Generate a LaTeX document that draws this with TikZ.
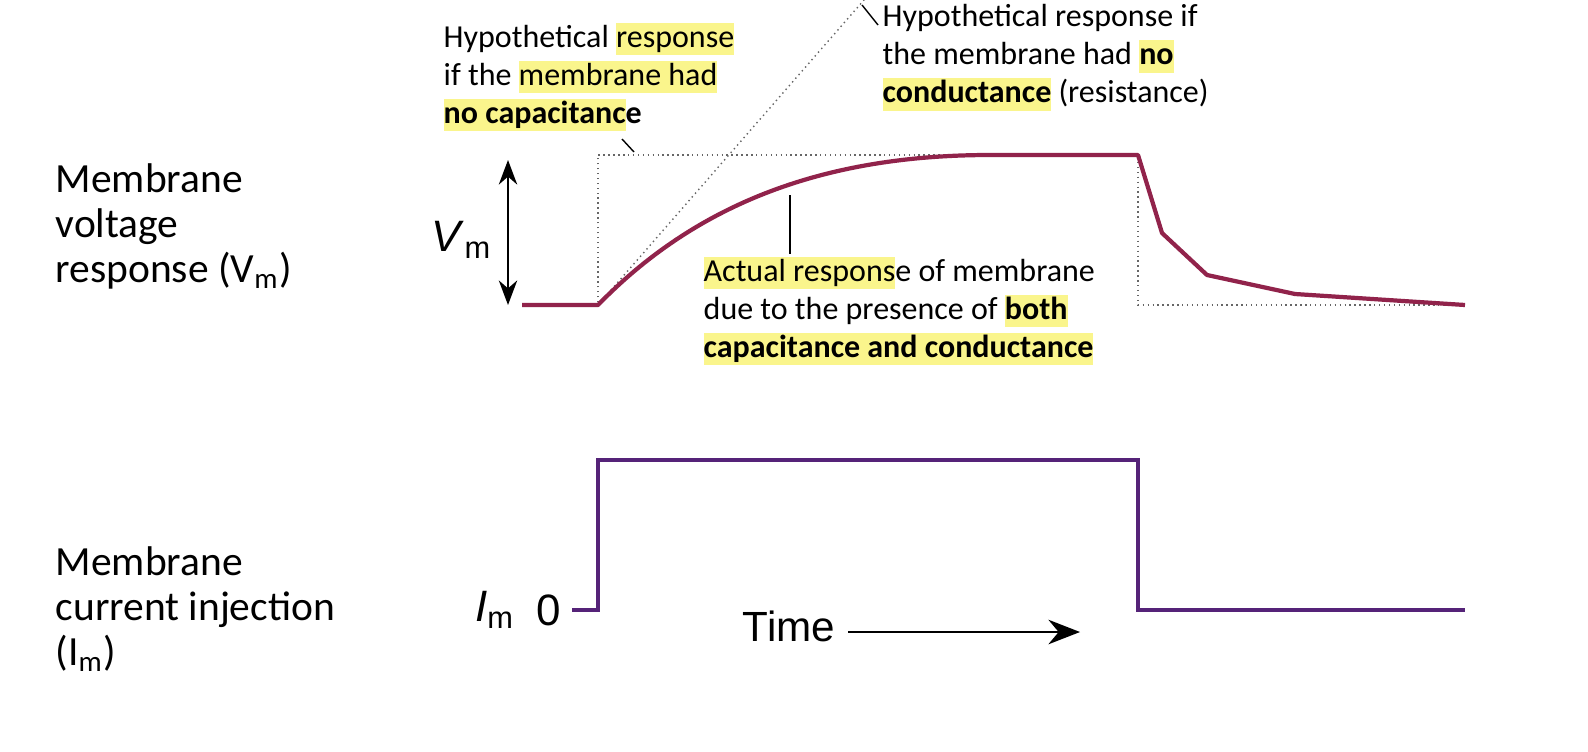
\documentclass[tikz,border=0pt]{standalone}
\usepackage{fontspec}
\setmainfont{Carlito}
\newfontfamily\arialf{Liberation Sans}
\usetikzlibrary{arrows.meta}
\definecolor{hl}{RGB}{250,245,140}
\definecolor{vtr}{RGB}{145,35,75}
\definecolor{itr}{RGB}{85,35,120}
\newcommand{\hlt}[1]{{\setlength{\fboxsep}{0pt}\colorbox{hl}{\rule[-2.2pt]{0pt}{9.2pt}#1}}}
\begin{document}
\begin{tikzpicture}[x=0.01cm,y=-0.01cm,
  lab/.style={font=\fontsize{11.8}{12.8}\selectfont,align=left,anchor=north west,inner sep=0},
  ann/.style={font=\fontsize{9.1}{10.8}\selectfont,align=left,anchor=north west,inner sep=0},
  guide/.style={densely dotted,gray!80!black,line width=0.4pt},
  lead/.style={black,line width=0.4pt}]
\useasboundingbox (0,0) rectangle (1588,751);
% left labels
\node[lab] (lv) at (55,163) {Membrane\\voltage\\response (V\textsubscript{m})};
\node[lab] (li) at (55,546) {Membrane\\current injection\\(I\textsubscript{m})};
% guides
\coordinate (v0) at (598,305);
\draw[guide] (522,305) -- (v0) -- (598,155) -- (1138,155) -- (1138,305) -- (1465,305);
\coordinate (rtop) at (864,0);
\draw[guide] (v0) -- (rtop);
% voltage trace
\draw[vtr,line width=1.2pt,line join=round] (522,305) -- (v0)
  .. controls (700,200) and (830,155) .. (990,155) -- (1138,155)
  -- (1162,233) -- (1207,275) -- (1295,294) -- (1465,305);
% Vm arrow
\coordinate (va) at (508,160); \coordinate (vb) at (508,305);
\draw[{Stealth[length=7pt]}-{Stealth[length=7pt]},line width=0.5pt] (va) -- (vb);
\node[font=\arialf\fontsize{12.5}{14}\selectfont] (vm) at (462,240) {\textit{V}\textsubscript{m}};
% annotations
\node[ann] (a1) at (443,22) {Hypothetical \hlt{response}\\if the \hlt{membrane had}\\\hlt{\textbf{no capacitanc}}\textbf{e}};
\node[ann] (a2) at (882,4) {Hypothetical response if\\the membrane had \hlt{\textbf{no}}\\\hlt{\textbf{conductance}} (resistance)};
\node[ann] (a3) at (703,256) {\hlt{Actual respons}e of membrane\\due to the presence of \hlt{\textbf{both}}\\\hlt{\textbf{capacitance and conductance}}};
\coordinate (l1a) at (622,139); \coordinate (l1b) at (634,152);
\draw[lead] (l1a) -- (l1b);
\coordinate (l2a) at (862,5); \coordinate (l2b) at (878,25);
\draw[lead] (l2a) -- (l2b);
\coordinate (l3a) at (790,195); \coordinate (l3b) at (790,254);
\draw[lead] (l3a) -- (l3b);
% current trace
\draw[itr,line width=1.3pt,line join=miter] (572,610) -- (598,610) -- (598,460) -- (1138,460) -- (1138,610) -- (1465,610);
\node[font=\arialf\fontsize{12.5}{14}\selectfont] (im) at (495,610) {\textit{I}\textsubscript{m}};
\node[font=\arialf\fontsize{12.5}{14}\selectfont] (z) at (549,610) {0};
\node[font=\arialf\fontsize{12}{14}\selectfont] (tm) at (789,626) {Time};
\coordinate (ta) at (848,632); \coordinate (tb) at (1080,632);
\draw[-{Stealth[length=9pt,width=7pt]},line width=0.5pt] (ta) -- (tb);
\end{tikzpicture}
\end{document}
